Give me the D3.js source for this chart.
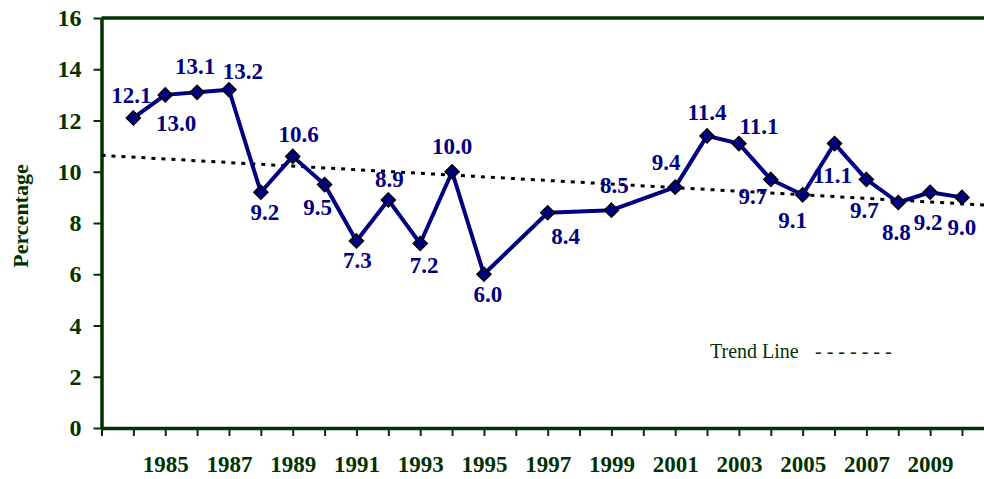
<!DOCTYPE html>
<html>
<head>
<meta charset="utf-8">
<script src="https://cdn.jsdelivr.net/npm/d3@7"></script>
<style>
  body { margin: 0; background: #fff; }
  svg { display: block; font-family: "Liberation Serif", "Times New Roman", serif; }
</style>
</head>
<body>
<svg id="chart" width="984" height="479"></svg>
<script>
// data
const years  = [1984, 1985, 1986, 1987, 1988, 1989, 1990, 1991, 1992, 1993, 1994, 1995,
                1997, 1999, 2001, 2002, 2003, 2004, 2005, 2006, 2007, 2008, 2009, 2010];
const values = [12.1, 13.0, 13.1, 13.2, 9.2, 10.6, 9.5, 7.3, 8.9, 7.2, 10.0, 6.0,
                8.4, 8.5, 9.4, 11.4, 11.1, 9.7, 9.1, 11.1, 9.7, 8.8, 9.2, 9.0];
// label placement relative to each point [dx, dy]
const labelOffset = [[-2,-15],[11,36],[-2,-18],[14,-11],[4,28],[6,-14],[-7,30],[1,27],
                     [1,-13],[4,29],[0,-18],[4,28],[18,31],[3,-17],[-9,-17],[0,-16],
                     [20,-10],[-18,25],[-10,33],[-2,39],[-2,39],[-2,37],[-2,38],[0,38]];
const trendYears  = [1983, 2011];
const trendValues = [10.64, 8.68];
const yTicks = [0, 2, 4, 6, 8, 10, 12, 14, 16];
const xTickLabels = [1985, 1987, 1989, 1991, 1993, 1995, 1997, 1999, 2001, 2003, 2005, 2007, 2009];

const green = '#003300', navy = '#000080';
const svg = d3.select('#chart');

const x = d3.scaleLinear().domain([1983, 2011]).range([101.5, 101.5 + 28 * 31.87]);
const y = d3.scaleLinear().domain([0, 16]).range([428, 18]);

// frame top
svg.append('line')
  .attr('x1', x(1983)).attr('x2', x(2011))
  .attr('y1', y(16)).attr('y2', y(16))
  .attr('stroke', green).attr('stroke-width', 3.5);

// y axis
const yAxis = svg.append('g')
  .attr('transform', `translate(${x(1983)},0)`)
  .call(d3.axisLeft(y).tickValues(yTicks).tickSize(8).tickPadding(12).tickSizeOuter(0));
yAxis.select('.domain').attr('stroke', green).attr('stroke-width', 3.5);
yAxis.selectAll('.tick line').attr('stroke', green).attr('stroke-width', 2);
yAxis.selectAll('.tick text')
  .attr('fill', green).style('font-size', '24px').style('font-weight', 'bold')
  .style('font-family', '"Liberation Serif", serif');

// x axis
const allYears = d3.range(1983, 2012);
const xAxis = svg.append('g')
  .attr('transform', `translate(0,${y(0)})`)
  .call(d3.axisBottom(x).tickValues(allYears).tickSize(8).tickPadding(20).tickSizeOuter(0)
    .tickFormat(d => xTickLabels.includes(d) ? d : ''));
xAxis.select('.domain').attr('stroke', green).attr('stroke-width', 3.5);
xAxis.selectAll('.tick line').attr('stroke', green).attr('stroke-width', 2);
xAxis.selectAll('.tick text')
  .attr('fill', green).style('font-size', '23px').style('font-weight', 'bold')
  .style('font-family', '"Liberation Serif", serif');

// axis title
svg.append('text')
  .attr('transform', 'translate(28,216) rotate(-90)')
  .attr('text-anchor', 'middle')
  .attr('fill', green)
  .style('font-size', '22px').style('font-weight', 'bold')
  .text('Percentage');

// trend line
svg.append('line')
  .attr('x1', x(trendYears[0])).attr('y1', y(trendValues[0]))
  .attr('x2', x(trendYears[1])).attr('y2', y(trendValues[1]))
  .attr('stroke', '#000').attr('stroke-width', 3)
  .attr('stroke-dasharray', '4,6');

// data line
const pts = years.map((yr, i) => ({ year: yr, value: values[i], off: labelOffset[i] }));
svg.append('path')
  .datum(pts)
  .attr('fill', 'none')
  .attr('stroke', navy).attr('stroke-width', 4)
  .attr('stroke-linejoin', 'round')
  .attr('d', d3.line().x(d => x(d.year)).y(d => y(d.value)));

// markers
svg.selectAll('path.marker')
  .data(pts)
  .enter().append('path')
  .attr('class', 'marker')
  .attr('d', d3.symbol().type(d3.symbolDiamond2).size(125))
  .attr('transform', d => `translate(${x(d.year)},${y(d.value)})`)
  .attr('fill', navy).attr('stroke', '#000').attr('stroke-width', 1.5);

// value labels
svg.selectAll('text.lbl')
  .data(pts)
  .enter().append('text')
  .attr('class', 'lbl')
  .attr('x', d => x(d.year) + d.off[0])
  .attr('y', d => y(d.value) + d.off[1])
  .attr('text-anchor', 'middle')
  .attr('fill', navy)
  .style('font-size', '23px').style('font-weight', 'bold')
  .text(d => d.value.toFixed(1));

// legend
svg.append('text')
  .attr('x', 710).attr('y', 358)
  .attr('fill', green).style('font-size', '20px')
  .text('Trend Line');
svg.append('text')
  .attr('x', 815).attr('y', 358)
  .attr('fill', green).style('font-size', '20px')
  .text('- - - - - - -');
</script>
</body>
</html>
